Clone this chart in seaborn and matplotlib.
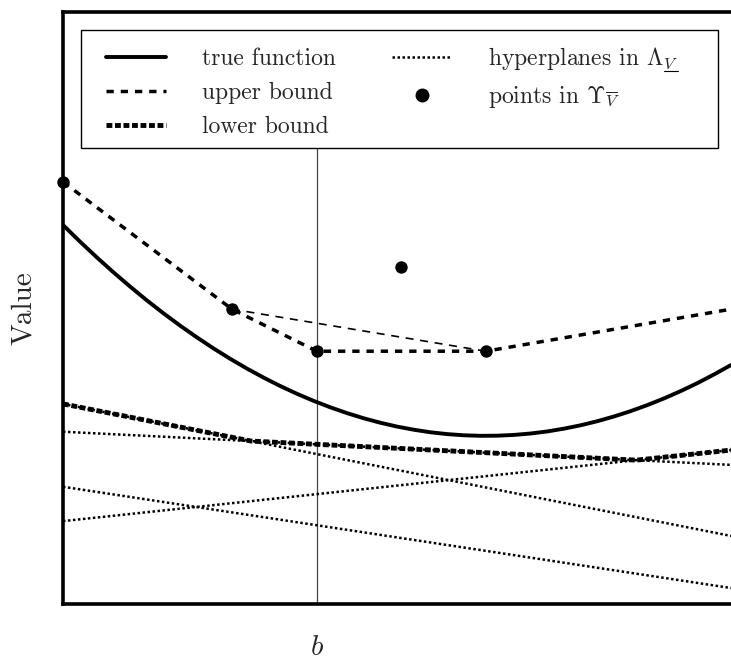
import numpy as np
import matplotlib
matplotlib.use("Agg")
import matplotlib.pyplot as plt
from matplotlib.lines import Line2D
from matplotlib.patches import Rectangle
import seaborn as sns

# State axis sample positions and the true value function at them
x_true = [0.0, 0.25, 0.5, 0.75, 1.0, 1.25, 1.5, 1.75, 2.0, 2.25, 2.5,
          2.75, 3.0, 3.25, 3.5, 3.75, 4.0, 4.25, 4.5, 4.75, 5.0,
          5.25, 5.5, 5.75, 6.0, 6.25, 6.5, 6.75, 7.0, 7.25, 7.5,
          7.75, 8.0, 8.25, 8.5, 8.75, 9.0, 9.25, 9.5, 9.75, 10.0]
v_true = [6.402, 6.126, 5.862, 5.608, 5.366, 5.134, 4.914, 4.705, 4.507, 4.320, 4.144,
          3.979, 3.826, 3.683, 3.552, 3.432, 3.323, 3.225, 3.138, 3.062, 2.997,
          2.944, 2.901, 2.870, 2.850, 2.841, 2.843, 2.856, 2.880, 2.915, 2.962,
          3.019, 3.088, 3.168, 3.259, 3.361, 3.474, 3.598, 3.733, 3.880, 4.037]

# Vertices of the piecewise-linear upper bound
x_upper = [0.0, 2.53, 3.80, 6.33, 10.0]
v_upper = [7.13, 4.98, 4.27, 4.27, 4.98]

# Stored points of the upper bound
x_points = [0.0, 2.53, 3.80, 5.06, 6.33]
v_points = [7.13, 4.98, 4.27, 5.69, 4.27]

# Chord that the bound would follow without the point at b
x_chord = [2.53, 6.33]
v_chord = [4.98, 4.27]

# Hyperplanes (cuts): value at the left and right edge of the state axis
x_edges = [0.0, 10.0]
hyper_left = [2.91, 3.38, 1.98, 1.40]
hyper_right = [2.35, 1.15, 0.27, 2.60]

b_pos = 3.80
x_range = (0.0, 10.0)
y_range = (0.0, 10.0)

# line styles
LW_TRUE, LW_UPPER, LW_LOWER, LW_HYP, LW_CHORD = 2.8, 2.5, 3.5, 1.8, 1.2
LS_UPPER = (0, (2.1, 2.0))
LS_LOWER = (0, (1.2, 0.55))
LS_HYP = (0, (1.0, 1.0))
LS_CHORD = (0, (4.8, 4.0))

sns.set_theme(style="white")
plt.rcParams["font.family"] = ["cmr10", "DejaVu Serif"]
plt.rcParams["mathtext.fontset"] = "cm"
plt.rcParams["axes.formatter.use_mathtext"] = True
plt.rcParams["axes.unicode_minus"] = False

W, H = 731, 662
fig = plt.figure(figsize=(W / 100, H / 100), dpi=100)
ax = fig.add_axes([63 / W, 58 / H, 668 / W, 592 / H])

# Hyperplanes and their upper envelope (the lower bound)
grid = np.linspace(x_range[0], x_range[1], 601)
planes = np.array([np.interp(grid, x_edges, [l, r])
                   for l, r in zip(hyper_left, hyper_right)])
for vals in planes:
    sns.lineplot(x=grid, y=vals, ax=ax, color="black", lw=LW_HYP,
                 linestyle=LS_HYP, estimator=None, sort=False, zorder=2)
lower = planes.max(axis=0)
sns.lineplot(x=grid, y=lower, ax=ax, color="black", lw=LW_LOWER,
             linestyle=LS_LOWER, estimator=None, sort=False, zorder=3)

# True function
sns.lineplot(x=x_true, y=v_true, ax=ax, color="black", lw=LW_TRUE,
             estimator=None, sort=False, zorder=4)

# Upper bound and the chord
sns.lineplot(x=x_chord, y=v_chord, ax=ax, color="black", lw=LW_CHORD,
             linestyle=LS_CHORD, estimator=None, sort=False, zorder=3)
sns.lineplot(x=x_upper, y=v_upper, ax=ax, color="black", lw=LW_UPPER,
             linestyle=LS_UPPER, estimator=None, sort=False, zorder=4)
sns.scatterplot(x=x_points, y=v_points, ax=ax, color="black", s=80,
                linewidth=0, zorder=6, clip_on=False)

ax.set_xlim(*x_range)
ax.set_ylim(*y_range)
ax.set_xticks([b_pos])
ax.set_xticklabels(["$b$"], fontsize=21)
ax.tick_params(axis="x", length=0, pad=22)
ax.set_yticks([])
ax.set_ylabel("Value", fontsize=21, labelpad=19)
ax.set_xlabel("")

for side in ["left", "bottom", "top"]:
    ax.spines[side].set_visible(True)
    ax.spines[side].set_color("black")
    ax.spines[side].set_linewidth(2.6)
ax.spines["right"].set_visible(False)

# Legend box (frame drawn separately so it spans the full width)
box_x0, box_x1, box_top, box_bottom = 81, 718, 30, 148
fig.add_artist(Rectangle((box_x0 / W, 1 - box_bottom / H),
                         (box_x1 - box_x0) / W, (box_bottom - box_top) / H,
                         transform=fig.transFigure, facecolor="white",
                         edgecolor="black", lw=1.0, zorder=9))

handles = [
    Line2D([], [], color="black", lw=LW_TRUE),
    Line2D([], [], color="black", lw=LW_UPPER, linestyle=LS_UPPER),
    Line2D([], [], color="black", lw=LW_LOWER, linestyle=LS_LOWER),
    Line2D([], [], color="black", lw=LW_HYP, linestyle=LS_HYP),
    Line2D([], [], color="black", lw=0, marker="o", markersize=9),
]
labels = ["true function", "upper bound", "lower bound",
          r"hyperplanes in $\Lambda_{V}$",
          r"points in $\Upsilon_{\overline{V}}$"]
leg = fig.legend(handles, labels, ncol=2, fontsize=17,
                 loc="upper left", bbox_to_anchor=(106 / W, 1 - 45 / H),
                 frameon=False, handlelength=2.55, handletextpad=1.5,
                 columnspacing=2.4, labelspacing=0.5, borderpad=0,
                 borderaxespad=0)
leg.set_zorder(10)

fig.canvas.draw()
renderer = fig.canvas.get_renderer()

# Vertical line at b, running up to the bottom of the legend box
box_bottom_data = ax.transData.inverted().transform((0, H - box_bottom))[1]
ax.vlines(b_pos, y_range[0], box_bottom_data, color="#444444", lw=0.9, zorder=1)

# Underline the subscript V of the hyperplane label
hyp_text = leg.get_texts()[3]
prop = hyp_text.get_fontproperties()
w_full, _, _ = renderer.get_text_width_height_descent(r"$\Lambda_{V}$", prop, ismath=True)
w_base, _, _ = renderer.get_text_width_height_descent(r"$\Lambda$", prop, ismath=True)
bb = hyp_text.get_window_extent(renderer)
x0 = bb.x1 - (w_full - w_base) + 1
fig.add_artist(Line2D([x0, bb.x1], [bb.y0 + 1.5, bb.y0 + 1.5], color="black",
                      lw=0.8, transform=None, zorder=11))

fig.savefig("out.png", dpi=100)
